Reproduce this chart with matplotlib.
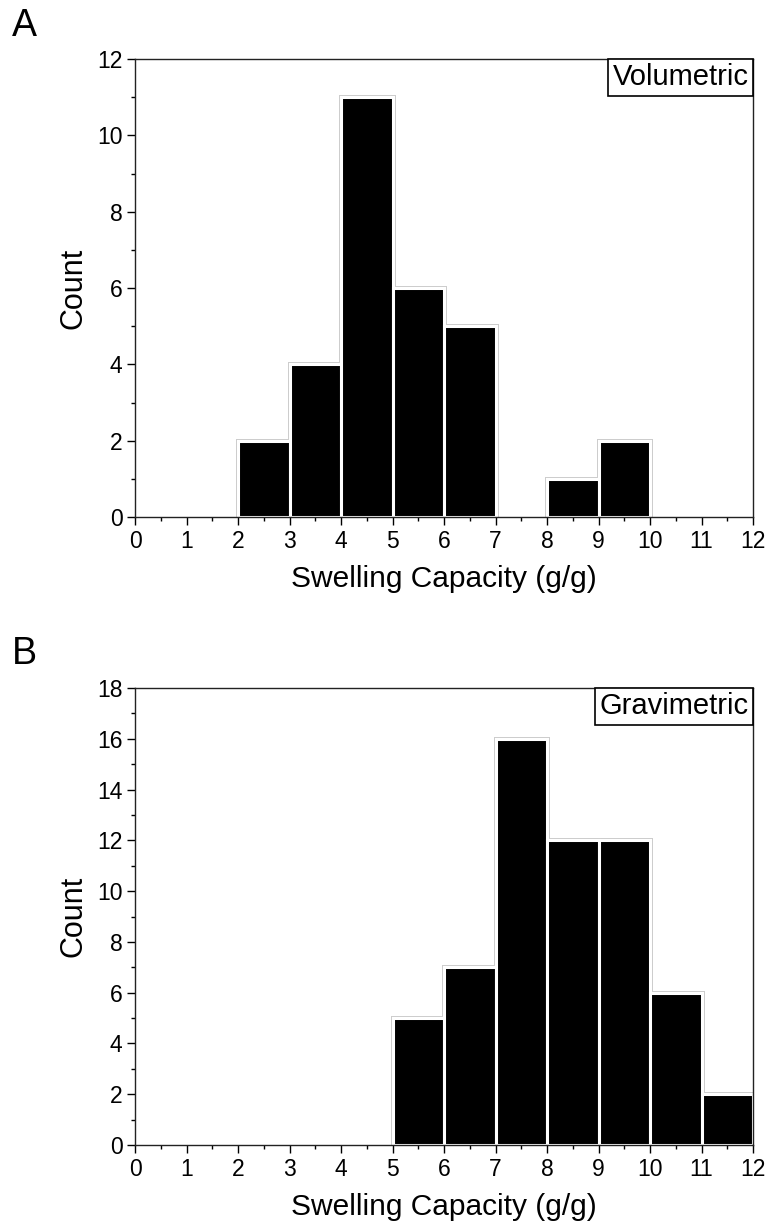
import matplotlib
matplotlib.use("Agg")
import matplotlib.pyplot as plt
import numpy as np

plt.rcParams['font.family'] = ['Liberation Sans', 'DejaVu Sans']

bin_left_A = [2, 3, 4, 5, 6, 7, 8, 9]
counts_A = [2, 4, 11, 6, 5, 0, 1, 2]
bin_left_B = [5, 6, 7, 8, 9, 10, 11]
counts_B = [5, 7, 16, 12, 12, 6, 2]
xticks = list(range(0, 13))
yticks_A = [0, 2, 4, 6, 8, 10, 12]
yticks_B = [0, 2, 4, 6, 8, 10, 12, 14, 16, 18]
xlabel = "Swelling Capacity (g/g)"
ylabel = "Count"

W, H = 766, 1226
fig = plt.figure(figsize=(W/100, H/100), dpi=100)

def px_axes(left, top, right, bottom):
    return fig.add_axes([left/W, 1-bottom/H, (right-left)/W, (bottom-top)/H])

def draw(ax, lefts, counts, yticks, ymax, label):
    lefts = [l for l, c in zip(lefts, counts) if c > 0]
    cs = [c for c in counts if c > 0]
    ax.bar(lefts, cs, width=1, align='edge', color='black', edgecolor='#cccccc', linewidth=3.6, zorder=2)
    ax.bar(lefts, cs, width=1, align='edge', color='black', edgecolor='white', linewidth=2.2, zorder=3)
    ax.set_xlim(0, 12)
    ax.set_ylim(0, ymax)
    ax.set_xticks(xticks)
    ax.set_yticks(yticks)
    ax.set_xticks(np.arange(0.5, 12, 1), minor=True)
    ax.set_yticks(np.arange(1, ymax, 2), minor=True)
    ax.tick_params(which='major', direction='out', length=6, width=1, labelsize=16.5, colors='black', pad=3)
    ax.tick_params(which='minor', direction='out', length=3, width=1)
    for s in ax.spines.values():
        s.set_linewidth(1)
        s.set_color('#222222')
        s.set_zorder(5)
    ax.set_xlabel(xlabel, fontsize=21.5, labelpad=9)
    ax.set_ylabel(ylabel, fontsize=22, labelpad=6)
    ax.annotate(label, xy=(1, 1), xycoords='axes fraction', xytext=(-3, -3), textcoords='offset points',
                ha='right', va='top', fontsize=21, zorder=6, annotation_clip=False,
                bbox=dict(boxstyle='square,pad=0.15', facecolor='white', edgecolor='black', linewidth=1.2))

axA = px_axes(135, 59, 753, 517)
draw(axA, bin_left_A, counts_A, yticks_A, 12, "Volumetric")
axB = px_axes(135, 688, 753, 1145)
draw(axB, bin_left_B, counts_B, yticks_B, 18, "Gravimetric")

fig.text(12/W, 1-8/H, "A", fontsize=27, ha='left', va='top')
fig.text(12/W, 1-636/H, "B", fontsize=27, ha='left', va='top')

fig.savefig("out.png", dpi=100)
